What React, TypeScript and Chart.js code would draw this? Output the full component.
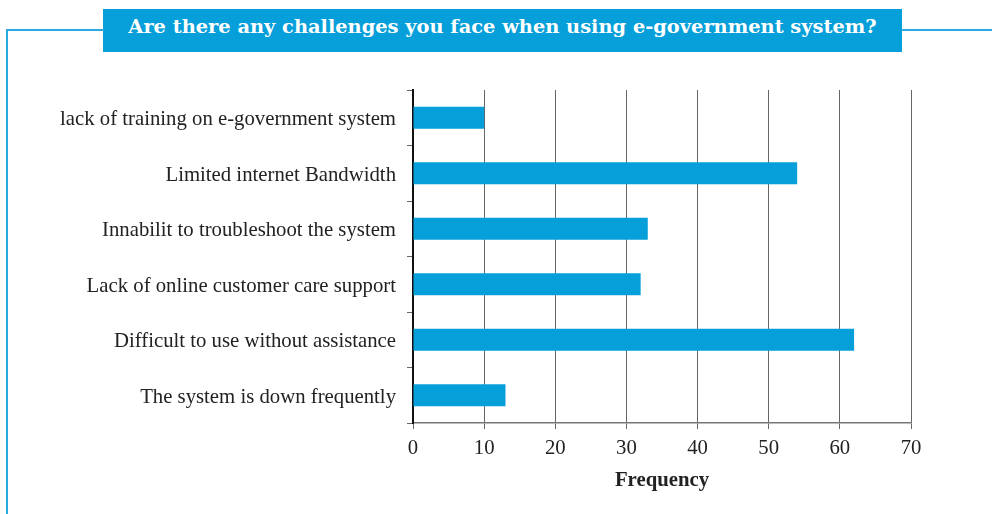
import React, { useEffect, useRef } from "react";
import { Chart, registerables } from "chart.js";

Chart.register(...registerables);

const categories: string[] = [
  "lack of training on e-government system",
  "Limited internet Bandwidth",
  "Innabilit to troubleshoot the system",
  "Lack of online customer care support",
  "Difficult to use without assistance",
  "The system is down frequently",
];
const frequencies: number[] = [10, 54, 33, 32, 62, 13];
const xTicks: number[] = [0, 10, 20, 30, 40, 50, 60, 70];
const titleText = "Are there any challenges you face when using e-government system?";
const axisTitle = "Frequency";

const BLUE = "#069fd9";
const LINE_BLUE = "#29abe2";
const SERIF = "'Liberation Serif', 'Times New Roman', serif";

export default function App() {
  const canvasRef = useRef<HTMLCanvasElement | null>(null);

  useEffect(() => {
    if (!canvasRef.current) return;
    const chart = new Chart(canvasRef.current, {
      type: "bar",
      data: {
        labels: categories,
        datasets: [
          {
            data: frequencies,
            backgroundColor: BLUE,
            borderWidth: 0,
            barPercentage: 0.4,
            categoryPercentage: 1,
          },
        ],
      },
      options: {
        indexAxis: "y",
        responsive: false,
        animation: false,
        devicePixelRatio: 1,
        layout: { padding: { top: 90, right: 81, left: 0, bottom: 0 } },
        plugins: {
          legend: { display: false },
          tooltip: { enabled: false },
        },
        scales: {
          x: {
            min: 0,
            max: 70,
            afterFit: (s: any) => {
              s.height = 91;
            },
            afterBuildTicks: (s: any) => {
              s.ticks = xTicks.map((v) => ({ value: v }));
            },
            ticks: {
              color: "#222",
              font: { family: SERIF, size: 20.75 },
              padding: 7,
            },
            grid: {
              color: "#666",
              lineWidth: 1,
              tickLength: 6,
              drawTicks: true,
            },
            border: { color: "#777", width: 1.5 },
            title: {
              display: true,
              text: axisTitle,
              color: "#222",
              font: { family: SERIF, size: 20.75, weight: "bold" },
              padding: { top: 4, bottom: 21 },
            },
          },
          y: {
            afterFit: (s: any) => {
              s.width = 413;
            },
            ticks: {
              color: "#222",
              font: { family: SERIF, size: 20.75 },
              padding: 11,
              labelOffset: 2,
            },
            grid: {
              drawOnChartArea: false,
              drawTicks: true,
              tickLength: 6,
              color: "#666",
              offset: true,
            },
            border: { color: "#111", width: 2 },
          },
        },
      },
    });
    return () => chart.destroy();
  }, []);

  return (
    <div
      style={{
        position: "absolute",
        left: 0,
        top: 0,
        width: 992,
        height: 514,
        background: "#fff",
        overflow: "hidden",
      }}
    >
      {/* frame lines */}
      <div style={{ position: "absolute", left: 7, top: 29, width: 100, height: 1.5, background: LINE_BLUE }} />
      <div style={{ position: "absolute", left: 900, top: 29, width: 92, height: 1.5, background: LINE_BLUE }} />
      <div style={{ position: "absolute", left: 6, top: 29, width: 1.5, height: 485, background: LINE_BLUE }} />
      <canvas ref={canvasRef} width={992} height={514} style={{ position: "absolute", left: 0, top: 0 }} />
      <div
        style={{
          position: "absolute",
          left: 103,
          top: 9,
          width: 799,
          height: 43,
          background: BLUE,
          color: "#fff",
          fontFamily: "'DejaVu Serif', serif",
          fontWeight: "bold",
          fontSize: 19.4,
          lineHeight: "35px",
          textAlign: "center",
          whiteSpace: "nowrap",
        }}
      >
        {titleText}
      </div>
    </div>
  );
}
